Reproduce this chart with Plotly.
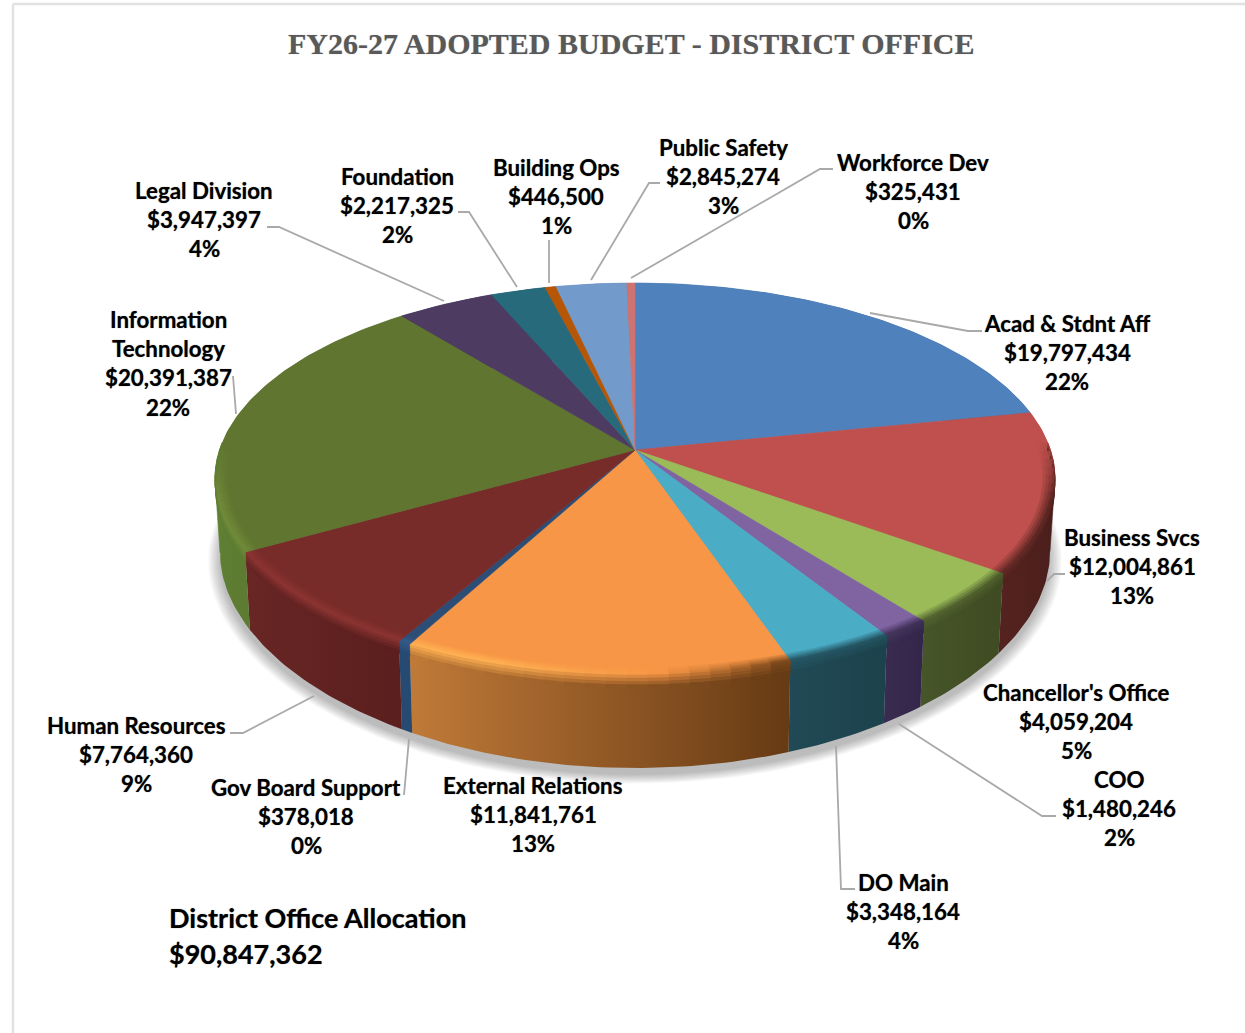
import math
import plotly.graph_objects as go

# ---------- data ----------
departments = ["Acad & Stdnt Aff", "Business Svcs", "Chancellor's Office", "COO", "DO Main",
               "External Relations", "Gov Board Support", "Human Resources", "Information Technology",
               "Legal Division", "Foundation", "Building Ops", "Public Safety", "Workforce Dev"]
budget = [19797434, 12004861, 4059204, 1480246, 3348164, 11841761, 378018, 7764360, 20391387,
          3947397, 2217325, 446500, 2845274, 325431]
percent_labels = ["22%", "13%", "5%", "2%", "4%", "13%", "0%", "9%", "22%", "4%", "2%", "1%", "3%", "0%"]
total_label = "$90,847,362"

# ---------- style ----------
top_colors = ["#4F81BD", "#C0504D", "#9BBB59", "#8064A2", "#4BACC6", "#F79646", "#2C4D75", "#772C2A",
              "#5F7530", "#4D3B62", "#276A7C", "#B65708", "#729ACA", "#CD7371"]
wall_left = ["#2f4d72", "#55231f", "#46552a", "#3a2c50", "#214a56", "#C07A38", "#264A72", "#682624",
             "#5f7f33", "#3a2c50", "#1e4f5d", "#8a4206", "#56749a", "#9a5655"]
wall_right = ["#2f4d72", "#4a1f1c", "#3f4b22", "#33264a", "#1c424c", "#663A14", "#264A72", "#5a1f1e",
              "#52692b", "#3a2c50", "#1e4f5d", "#8a4206", "#56749a", "#9a5655"]

# ---------- projection of the pie disc on the page ----------
CX, CY, D, F, G = 635.0, 450.0, 6.76, 2808.0, 1296.0


def proj(r, t, z=0.0):
    X, Y = r * math.sin(t), r * math.cos(t)
    den = D + Y
    x = CX + F * X / den
    y = CY - G * Y / den
    if z:
        x = CX + (x - CX) * (1 - 0.012 * z)
        y += z * (73 + 20 * (Y * Y if Y < 0 else 0))
    return x, y


def arc(r, a, b, z=0.0, step=math.radians(1.0)):
    n = max(2, int(abs(b - a) / step) + 1)
    return [proj(r, a + (b - a) * i / n, z) for i in range(n + 1)]


def hex2rgb(c):
    return tuple(int(c[i:i + 2], 16) for i in (1, 3, 5))


def mix(c1, c2, k):
    a, b = hex2rgb(c1), hex2rgb(c2)
    return "#%02x%02x%02x" % tuple(round(a[i] + (b[i] - a[i]) * k) for i in range(3))


def brighten(c, f):
    return "#%02x%02x%02x" % tuple(min(255, round(v * f)) for v in hex2rgb(c))


fig = go.Figure()


def poly(pts, color):
    xs, ys = zip(*pts)
    fig.add_trace(go.Scatter(x=list(xs) + [xs[0]], y=list(ys) + [ys[0]], mode="lines", fill="toself",
                             fillcolor=color, line=dict(color=color, width=0.6), hoverinfo="skip",
                             showlegend=False))


total = sum(budget)
angles = [0.0]
for v in budget:
    angles.append(angles[-1] + v / total * 2 * math.pi)

# soft shadow under the pie
for i in range(9):
    s = 1.028 - i * 0.0035
    pts = [proj(s, math.radians(a), 1.0) for a in range(0, 360, 2)]
    pts = [(x, y + 7) for x, y in pts]
    xs, ys = zip(*pts)
    fig.add_trace(go.Scatter(x=list(xs), y=list(ys), mode="lines", fill="toself",
                             fillcolor="rgba(0,0,0,0.03)", line=dict(width=0),
                             hoverinfo="skip", showlegend=False))

# silhouette fill: the straight edge joining top and bottom rims at the far left and far right
for i in range(len(budget)):
    top = arc(1, angles[i], angles[i + 1])
    bot = arc(1, angles[i], angles[i + 1], 1.0)
    xt = [p[0] for p in top]
    lo, hi = xt.index(min(xt)), xt.index(max(xt))
    if 0 < lo < len(top) - 1:
        j = min(range(len(bot)), key=lambda q: bot[q][0])
        poly([top[lo], bot[j], (CX, CY)], wall_left[i])
    if 0 < hi < len(top) - 1:
        j = max(range(len(bot)), key=lambda q: bot[q][0])
        poly([top[hi], bot[j], (CX, CY)], wall_right[i])

# side walls
extents = []
for i in range(len(budget)):
    a, b = angles[i], angles[i + 1]
    pts = arc(1, a, b) + arc(1, b, a, 1.0)
    xs, ys = zip(*pts)
    extents.append((min(xs), max(xs)))
    fig.add_trace(go.Scatter(x=list(xs) + [xs[0]], y=list(ys) + [ys[0]], mode="lines", fill="toself",
                             fillgradient=dict(type="horizontal",
                                               colorscale=[[0, wall_left[i]], [1, wall_right[i]]]),
                             line=dict(width=0), hoverinfo="skip", showlegend=False))

# top faces
for i in range(len(budget)):
    a, b = angles[i], angles[i + 1]
    poly([(CX, CY)] + arc(1, a, b), top_colors[i])


# rim colour: lit on the left, dark on the right, none at the back
def rim_color(i, t):
    X, Y = math.sin(t), math.cos(t)
    x = proj(1, t)[0]
    lo, hi = extents[i]
    base, wall = top_colors[i], mix(wall_left[i], wall_right[i], (x - lo) / max(hi - lo, 1))
    front = min(1.0, max(0.0, (0.05 - Y) / 0.3))
    if X < 0.05:
        lit = brighten(base, 1.18)
        return mix(base, lit, front * min(1, (0.05 - X) / 0.35)), wall, front
    return mix(base, wall, front * min(1, (X - 0.05) / 0.25) * 0.85), wall, front


SEG = math.radians(2.5)
for i in range(len(budget)):
    a, b = angles[i], angles[i + 1]
    n = max(1, math.ceil((b - a) / SEG))
    for j in range(n):
        s0, s1 = a + (b - a) * j / n, a + (b - a) * (j + 1) / n
        mid = (s0 + s1) / 2
        rim, wall, front = rim_color(i, mid)
        if front <= 0:
            continue
        # bevel on the top face
        rr = [0.972, 0.979, 0.986, 0.993, 1.0]
        for k in range(4):
            poly(arc(rr[k], s0, s1) + arc(rr[k + 1], s1, s0), mix(top_colors[i], rim, (k + 1) / 4))
        # bevel on the wall
        zz = [0, 0.035, 0.07, 0.105, 0.14]
        for k in range(4):
            poly(arc(1, s0, s1, zz[k]) + arc(1, s1, s0, zz[k + 1]), mix(rim, wall, (k + 1) / 4))

# ---------- leader lines ----------
leaders = [
    [(870, 313), (968, 331), (982, 331)],
    [(1047, 581), (1054, 574), (1065, 574)],
    [(899, 724), (1042, 816), (1056, 816)],
    [(836, 746), (841, 889), (855, 889)],
    [(314, 696), (243, 733), (230, 733)],
    [(409, 739), (404, 795)],
    [(236, 414), (233, 376)],
    [(444, 301), (279, 227), (267, 227)],
    [(517, 287), (469, 212), (458, 212)],
    [(549, 283), (549, 240)],
    [(591, 280), (649, 183), (660, 183)],
    [(631, 278), (820, 169), (833, 169)],
]
for path in leaders:
    xs, ys = zip(*path)
    fig.add_trace(go.Scatter(x=xs, y=ys, mode="lines", line=dict(color="#A9A9A9", width=1.8),
                             hoverinfo="skip", showlegend=False))

# ---------- labels ----------
label_x = [1067, 1132, 1076, 1119, 903, 533, 306, 136, 168, 204, 397, 556, 723, 913]
label_y = [323, 537, 692, 779, 882, 785, 787, 725, 319, 190, 176, 167, 147, 162]
SOFT = "0 0 1px rgba(0,0,0,0.55)"
LABEL_FONT = dict(family="Lato", size=22.3, color="#000000", weight=700, shadow=SOFT)
annotations = []


def put(x, y, text, font, anchor="center"):
    annotations.append(dict(x=x, y=y, xref="x", yref="y", text=text, showarrow=False, xanchor=anchor,
                            yanchor="middle", font=font))


for i, name in enumerate(departments):
    lines = ["Information", "Technology"] if name == "Information Technology" else [name]
    lines = lines + ["${:,}".format(budget[i]), percent_labels[i]]
    for k, line in enumerate(lines):
        put(label_x[i], label_y[i] + k * 29.4, line, LABEL_FONT)

put(631, 43.5, "FY26-27 ADOPTED BUDGET - DISTRICT OFFICE",
    dict(family="Liberation Serif", size=30, color="#595959", weight=700, shadow="0 0 1px rgba(89,89,89,0.5)"))
TOTAL_FONT = dict(family="Lato", size=27, color="#000000", weight=700, shadow=SOFT)
put(167, 917, "District Office Allocation", TOTAL_FONT, "left")
put(167, 953, total_label, TOTAL_FONT, "left")

frame = [
    dict(type="line", x0=13, x1=13, y0=4, y1=1033, xref="x", yref="y", line=dict(color="#E2E2E2", width=2.5)),
    dict(type="line", x0=13, x1=1245, y0=4, y1=4, xref="x", yref="y", line=dict(color="#E2E2E2", width=2.5)),
]

fig.update_layout(
    width=1245, height=1033, autosize=False, margin=dict(l=0, r=0, t=0, b=0),
    paper_bgcolor="#ffffff", plot_bgcolor="#ffffff", showlegend=False,
    xaxis=dict(range=[0, 1245], visible=False, fixedrange=True),
    yaxis=dict(range=[1033, 0], visible=False, fixedrange=True),
    annotations=annotations, shapes=frame,
)
fig.write_html("out.html", config={"displayModeBar": False},
               post_script="document.body.style.margin='0';document.body.style.overflow='hidden';")
